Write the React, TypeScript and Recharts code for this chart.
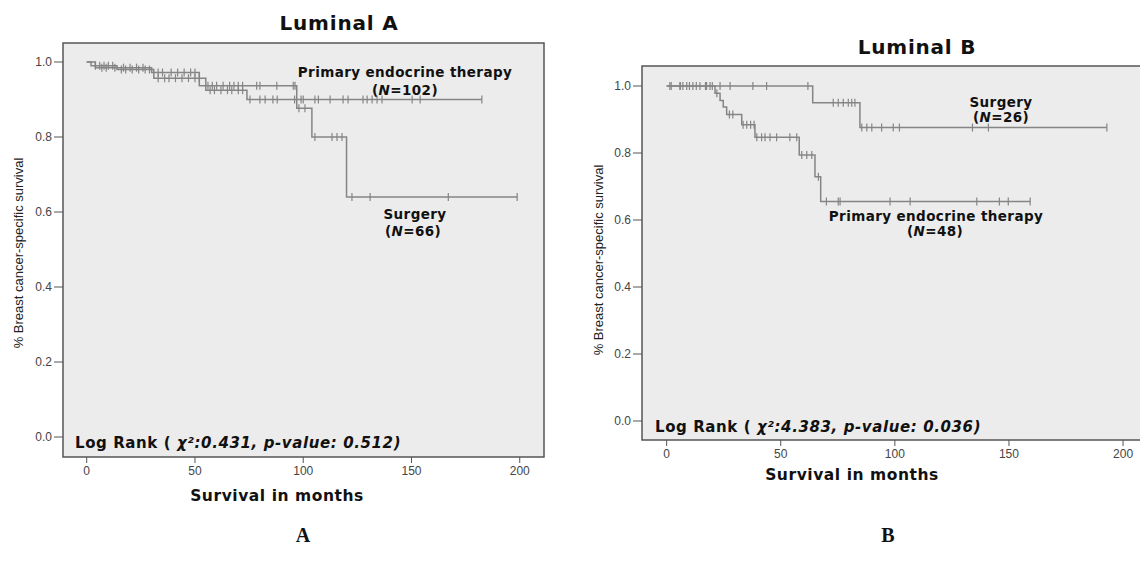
import React from 'react';
import { ComposedChart, Line, XAxis, YAxis, CartesianGrid, ReferenceArea } from 'recharts';

const xTicks = [0, 50, 100, 150, 200];
const yTicks = [0, 0.2, 0.4, 0.6, 0.8, 1.0];

// Luminal A - primary endocrine therapy (N=102)
const lumAPetEventT = [0, 2, 14, 31, 55, 74];
const lumAPetEventS = [1, 0.99, 0.98, 0.957, 0.925, 0.9];
const lumAPetCensorT = [4, 6, 8, 10, 12, 16, 18, 21, 24, 27, 29, 33, 36, 38, 41, 44, 47, 50, 52, 57, 59, 62, 65, 67, 70, 72,
  75.4, 80, 82.4, 86, 88, 96, 99, 100, 105.4, 107, 112.4, 118.4, 120.7, 127.6, 129.5, 131.8, 134.1, 136.4, 150.3, 154, 182.5];

// Luminal A - surgery (N=66)
const lumASurgEventT = [0, 4, 30, 52, 97, 104, 120];
const lumASurgEventS = [1, 0.985, 0.972, 0.937, 0.877, 0.8, 0.64];
const lumASurgCensorT = [7, 9, 13, 17, 20, 23, 26, 33, 35, 39, 42, 45, 48, 50, 56, 58, 60, 63, 66, 68, 70, 72, 78.5, 80, 87.8,
  95.4, 96.2, 98, 100.8, 105.4, 113.3, 115.6, 117.9, 122.5, 130.9, 167, 198.8];

// Luminal B - primary endocrine therapy (N=48)
const lumBPetEventT = [0, 21.2, 23.4, 24.8, 26.3, 32.9, 38.7, 58.1, 65, 67.5];
const lumBPetEventS = [1, 0.978, 0.957, 0.937, 0.915, 0.884, 0.847, 0.794, 0.729, 0.655];
const lumBPetCensorT = [2, 6, 10, 13, 17, 20, 22, 27.5, 29, 33.5, 35.1, 36.8, 38.3, 39.5, 41.6, 43.1, 45.3, 48.2, 54, 57,
  59.2, 61.4, 63.6, 66.5, 70, 75.2, 76, 97.9, 106.7, 135.9, 145.8, 149.7, 159.3];

// Luminal B - surgery (N=26)
const lumBSurgEventT = [0, 64, 84.7];
const lumBSurgEventS = [1, 0.95, 0.876];
const lumBSurgCensorT = [1.4, 5.8, 7.1, 8.8, 11.5, 14.6, 17.5, 19, 23.4, 27.8, 37.8, 43.8, 61.9, 73, 75.2, 77.4, 79.6, 81.1,
  82.5, 85.5, 87.7, 89.9, 94.2, 99.3, 102, 134, 141, 192.9];

// build step points: events + censored marks at the current level
function kmPoints(eventT: number[], eventS: number[], censorT: number[]) {
  const pts = eventT.map((t, i) => ({ t, s: eventS[i], c: false }));
  censorT.forEach(t => {
    let s = eventS[0];
    eventT.forEach((et, i) => { if (et <= t) s = eventS[i]; });
    pts.push({ t, s, c: true });
  });
  return pts.sort((a, b) => a.t - b.t || (a.c ? 1 : -1));
}

const LINE = '#858585';
const FRAME = '#555';
const tickStyle = { fill: '#444', fontSize: 12, fontFamily: 'Liberation Sans, Arial, sans-serif' };
const bold = { fontFamily: 'DejaVu Sans, Verdana, sans-serif', fontWeight: 700, color: '#111' } as const;

const censorDot = (props: any) => {
  const { cx, cy, payload, index } = props;
  if (!payload || !payload.c) return <g key={'d' + index} />;
  return <line key={'d' + index} x1={cx} x2={cx} y1={cy - 4} y2={cy + 4} stroke={LINE} strokeWidth={1.2} />;
};

interface PanelProps {
  left: number;
  width: number;
  margin: { top: number; right: number; bottom: number; left: number };
  xDomain: [number, number];
  yDomain: [number, number];
  curves: { t: number; s: number; c: boolean }[][];
}

function Panel({ left, width, margin, xDomain, yDomain, curves }: PanelProps) {
  return (
    <div style={{ position: 'absolute', left, top: 0 }}>
      <ComposedChart width={width} height={520} margin={margin}>
        <CartesianGrid fill="#ececec" horizontal={false} vertical={false} />
        <XAxis type="number" dataKey="t" domain={xDomain} ticks={xTicks} allowDataOverflow
          tick={tickStyle} tickSize={6} tickMargin={3} tickLine={{ stroke: FRAME }} axisLine={false} height={30} />
        <YAxis type="number" domain={yDomain} ticks={yTicks} allowDataOverflow width={50}
          tick={tickStyle} tickSize={9} tickLine={{ stroke: FRAME }} axisLine={false}
          tickFormatter={(v: number) => v.toFixed(1)} />
        {curves.map((d, i) => (
          <Line key={i} data={d} dataKey="s" type="stepAfter" stroke={LINE} strokeWidth={1.5}
            dot={censorDot} activeDot={false} isAnimationActive={false} />
        ))}
        <ReferenceArea x1={xDomain[0]} x2={xDomain[1]} y1={yDomain[0]} y2={yDomain[1]}
          fill="none" stroke={FRAME} strokeWidth={1.5} ifOverflow="visible" />
      </ComposedChart>
    </div>
  );
}

const Txt = ({ x, y, size, spacing = 0, children, style }: any) => (
  <div style={{ position: 'absolute', left: x, top: y, transform: 'translate(-50%, -50%)', whiteSpace: 'nowrap',
    fontSize: size, letterSpacing: spacing, lineHeight: 1, ...bold, ...style }}>{children}</div>
);

const YLabel = ({ x, y }: { x: number; y: number }) => (
  <div style={{ position: 'absolute', left: x, top: y, transform: 'translate(-50%, -50%) rotate(-90deg)', whiteSpace: 'nowrap',
    fontSize: 13, lineHeight: 1, color: '#222', fontFamily: 'Liberation Sans Narrow, Liberation Sans, Arial, sans-serif' }}>
    % Breast cancer-specific survival
  </div>
);

const LogRank = ({ x, y, chi, p }: { x: number; y: number; chi: string; p: string }) => (
  <div style={{ position: 'absolute', left: x, top: y, transform: 'translateY(-50%)', whiteSpace: 'nowrap',
    fontSize: 15, letterSpacing: 0.6, lineHeight: 1, ...bold }}>
    Log Rank ( <i>χ²:{chi}, p-value: {p})</i>
  </div>
);

export default function App() {
  return (
    <div style={{ position: 'absolute', left: 0, top: 0, width: 1140, height: 568, background: '#fff', overflow: 'hidden' }}>
      <Panel left={0} width={560} margin={{ top: 43, right: 16, bottom: 33, left: 13 }}
        xDomain={[-10.95, 211.2]} yDomain={[-0.0533, 1.0507]}
        curves={[kmPoints(lumAPetEventT, lumAPetEventS, lumAPetCensorT), kmPoints(lumASurgEventT, lumASurgEventS, lumASurgCensorT)]} />
      <Panel left={580} width={562} margin={{ top: 66, right: 0, bottom: 50, left: 12 }}
        xDomain={[-10.8, 208.3]} yDomain={[-0.0567, 1.0597]}
        curves={[kmPoints(lumBPetEventT, lumBPetEventS, lumBPetCensorT), kmPoints(lumBSurgEventT, lumBSurgEventS, lumBSurgCensorT)]} />

      <Txt x={339} y={23} size={20} spacing={0.8}>Luminal A</Txt>
      <Txt x={917} y={47} size={20} spacing={0.8}>Luminal B</Txt>

      <Txt x={405} y={73} size={13.5} spacing={0.4}>Primary endocrine therapy</Txt>
      <Txt x={405} y={91} size={13.5} spacing={0.4}>(<i>N</i>=102)</Txt>
      <Txt x={415} y={215} size={13.5} spacing={0.4}>Surgery</Txt>
      <Txt x={413} y={232} size={13.5} spacing={0.4}>(<i>N</i>=66)</Txt>

      <Txt x={1001} y={103} size={13.5} spacing={0.4}>Surgery</Txt>
      <Txt x={1001} y={118} size={13.5} spacing={0.4}>(<i>N</i>=26)</Txt>
      <Txt x={936} y={217} size={13.5} spacing={0.4}>Primary endocrine therapy</Txt>
      <Txt x={935} y={232} size={13.5} spacing={0.4}>(<i>N</i>=48)</Txt>

      <LogRank x={75} y={443} chi="0.431" p="0.512" />
      <LogRank x={655} y={427} chi="4.383" p="0.036" />

      <Txt x={277} y={497} size={15.5} spacing={0.55}>Survival in months</Txt>
      <Txt x={852} y={476} size={15.5} spacing={0.55}>Survival in months</Txt>

      <YLabel x={18} y={253} />
      <YLabel x={598} y={260} />

      <Txt x={303} y={535} size={20} style={{ fontFamily: 'Liberation Serif, DejaVu Serif, serif' }}>A</Txt>
      <Txt x={888} y={535} size={20} style={{ fontFamily: 'Liberation Serif, DejaVu Serif, serif' }}>B</Txt>
    </div>
  );
}
